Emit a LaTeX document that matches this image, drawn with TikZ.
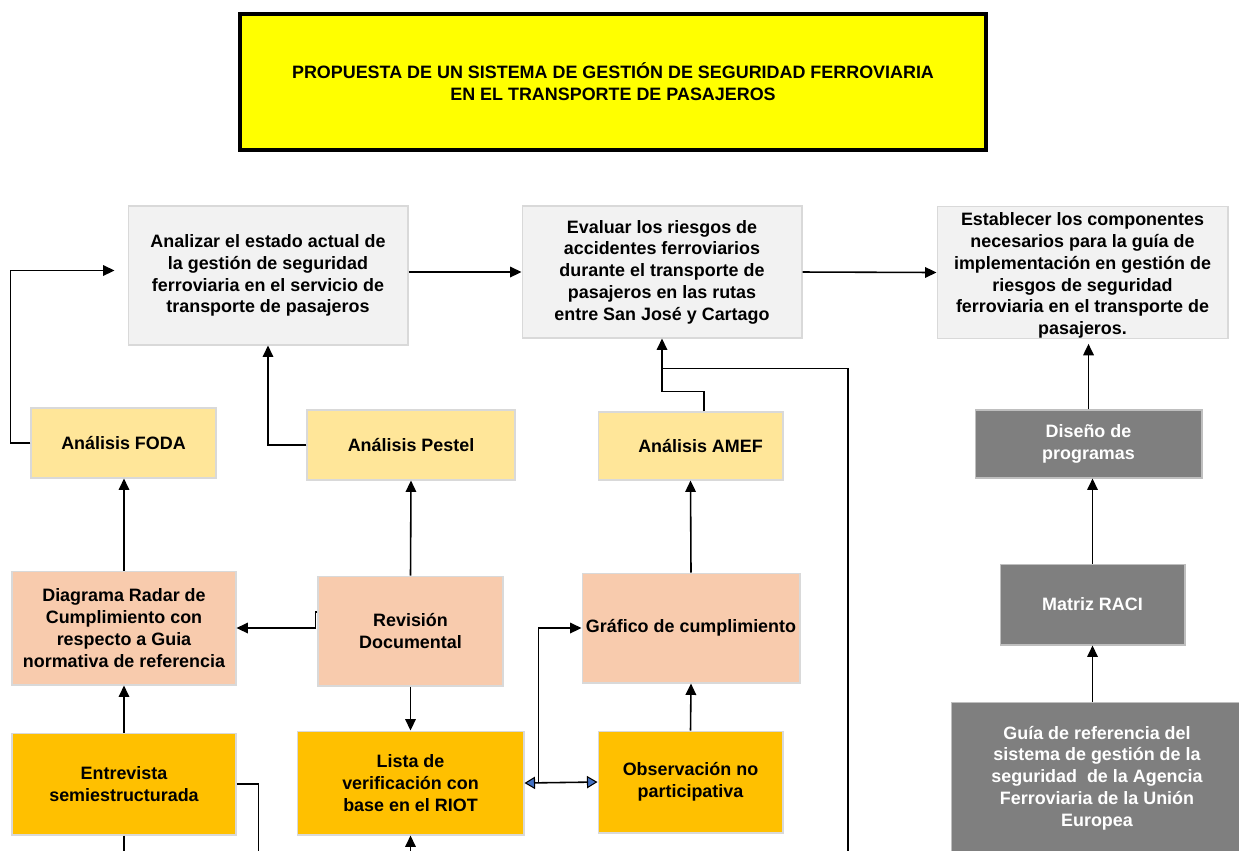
\documentclass[tikz,border=0pt]{standalone}
\usepackage{fontspec}
\setmainfont{Liberation Sans}
\usetikzlibrary{arrows.meta}
\definecolor{goalgray}{HTML}{F2F2F2}
\definecolor{boxline}{HTML}{D9D9D9}
\definecolor{tooltan}{HTML}{FFE699}
\definecolor{peach}{HTML}{F8CBAD}
\definecolor{amber}{HTML}{FFC000}
\definecolor{eurogray}{HTML}{7F7F7F}
\definecolor{eurolne}{HTML}{BFBFBF}
\definecolor{titleyellow}{HTML}{FFFF00}
\definecolor{arrowblue}{HTML}{4472C4}
\begin{document}
\begin{tikzpicture}[x=0.02cm, y=-0.02cm,
  font=\fontsize{10.2}{12.4}\selectfont\bfseries,
  box/.style={draw=boxline, line width=0.6pt, align=center, inner sep=2pt},
  goal/.style={box, fill=goalgray},
  tool/.style={box, fill=tooltan},
  result/.style={box, fill=peach},
  source/.style={box, fill=amber},
  euro/.style={box, draw=eurolne, fill=eurogray, text=white},
  heading/.style={draw=black, line width=2.3pt, fill=titleyellow, align=center},
  arr/.style={-{Triangle[length=6.5pt,width=6pt]}, line width=0.9pt},
  link/.style={line width=0.9pt},
  dbl/.style={{Triangle[length=6pt,width=7pt,fill=arrowblue,line width=0.6pt]}-{Triangle[length=6pt,width=7pt,fill=arrowblue,line width=0.6pt]}, line width=0.9pt}]
\clip (0,0) rectangle (1239,850);
\node[heading, minimum width=14.92cm, minimum height=2.72cm] (tit) at (613,82) {PROPUESTA DE UN SISTEMA DE GESTIÓN DE SEGURIDAD FERROVIARIA\\EN EL TRANSPORTE DE PASAJEROS};
\node[goal, minimum width=5.6cm, minimum height=2.78cm] (ana) at (268,275.5) {Analizar el estado actual de\\la gestión de seguridad\\ferroviaria en el servicio de\\transporte de pasajeros};
\node[goal, minimum width=5.6cm, minimum height=2.64cm] (eva) at (662,272) {Evaluar los riesgos de\\accidentes ferroviarios\\durante el transporte de\\pasajeros en las rutas\\entre San José y Cartago};
\node[goal, inner ysep=0pt, minimum width=5.82cm, minimum height=2.62cm] (est) at (1082.5,272.5) {\rule{0pt}{0.38cm}Establecer los componentes\\necesarios para la guía de\\implementación en gestión de\\riesgos de seguridad\\ferroviaria en el transporte de\\pasajeros.};
\node[tool, minimum width=3.7cm, minimum height=1.4cm] (foda) at (123.5,443) {Análisis FODA};
\node[tool, minimum width=4.16cm, minimum height=1.4cm] (pes) at (411,445) {Análisis Pestel};
\node[tool, minimum width=3.7cm, minimum height=1.36cm] (amef) at (690.5,446) {\hspace*{0.4cm}Análisis AMEF};
\node[euro, minimum width=4.54cm, minimum height=1.36cm] (dis) at (1088.5,444) {Diseño de\\programas};
\node[result, minimum width=4.48cm, minimum height=2.28cm] (radar) at (124,628) {Diagrama Radar de\\Cumplimiento con\\respecto a Guia\\normativa de referencia};
\node[result, minimum width=3.7cm, minimum height=2.2cm] (rev) at (410.5,631) {Revisión\\Documental};
\node[result, minimum width=4.36cm, minimum height=2.2cm] (graf) at (691,628) {Gráfico de cumplimiento};
\node[euro, minimum width=3.7cm, minimum height=1.62cm] (raci) at (1092.5,604.5) {Matriz RACI};
\node[source, minimum width=4.48cm, minimum height=2.04cm] (ent) at (124,784) {Entrevista\\semiestructurada};
\node[source, minimum width=4.54cm, minimum height=2.08cm] (lista) at (410.5,783) {Lista de\\verificación con\\base en el RIOT};
\node[source, minimum width=3.7cm, minimum height=2.04cm] (obs) at (690.5,782) {Observación no\\participativa};
\node[euro, minimum width=5.84cm, minimum height=3.04cm] (guia) at (1097,778) {Guía de referencia del\\sistema de gestión de la\\seguridad~ de la Agencia\\Ferroviaria de la Unión\\Europea};
\coordinate (jn) at ([yshift=-0.6cm]eva.south);
\draw[arr] (ana.east |- eva.west) -- (eva.west);
\draw[arr] (eva.east) -- (est.west);
\draw[arr] (foda.west) -- ++(-20,0) |- ([xshift=-0.26cm,yshift=0.1cm]ana.west);
\draw[arr] (pes.west) -| (ana.south);
\draw[arr] ([xshift=0.27cm]amef.north) -- ++(0,-20) -| (eva.south);
\draw[link] (jn) -| (848,870);
\draw[arr] (radar.north) -- (radar.north |- foda.south);
\draw[arr] (rev.north) -- (pes.south);
\draw[arr] (graf.north) -- (amef.south);
\draw[arr] ([yshift=0.38cm]rev.west) -- ++(-2,0) |- (radar.east);
\draw[arr] (rev.south) -- (lista.north);
\draw[arr] (ent.north) -- (radar.south);
\draw[link] (ent.east) -- ++(22,0) -- ++(0,80);
\draw[link] (ent.south) -- ++(0,30);
\draw[arr] ([yshift=-0.5cm]lista.south) -- (lista.south);
\draw[arr] (obs.north) -- (graf.south);
\draw[dbl] (lista.east) -- (obs.west);
\draw[arr] ([xshift=0.28cm]lista.east) |- (graf.west);
\draw[arr, shorten >=0.1cm] (dis.north) -- (dis.north |- est.south);
\draw[arr] (raci.north) -- (raci.north |- dis.south);
\draw[arr] (raci.south |- guia.north) -- (raci.south);
\end{tikzpicture}
\end{document}
